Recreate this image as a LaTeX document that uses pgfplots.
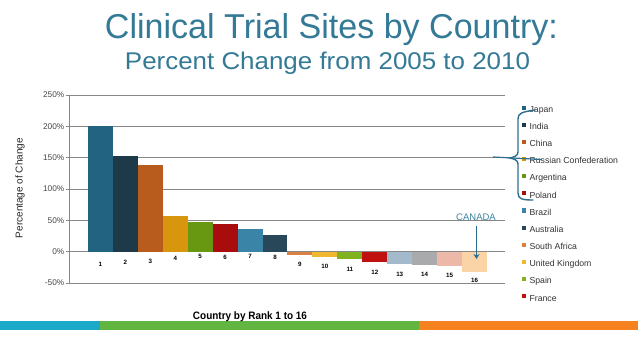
\documentclass[border=0pt]{standalone}
\usepackage{pgfplots}
\pgfplotsset{compat=1.18}
\usetikzlibrary{arrows.meta}
\usepackage{fontspec}
\setmainfont{Liberation Sans}
\usepackage{graphicx}
\definecolor{titlec}{RGB}{52,122,150}
\definecolor{c1}{RGB}{33,99,128}
\definecolor{c2}{RGB}{30,58,72}
\definecolor{c3}{RGB}{184,92,30}
\definecolor{c4}{RGB}{216,150,14}
\definecolor{c5}{RGB}{104,152,18}
\definecolor{c6}{RGB}{168,12,12}
\definecolor{c7}{RGB}{58,132,168}
\definecolor{c8}{RGB}{40,72,90}
\definecolor{c9}{RGB}{218,128,66}
\definecolor{c10}{RGB}{240,184,48}
\definecolor{c11}{RGB}{128,178,32}
\definecolor{c12}{RGB}{192,16,16}
\definecolor{c13}{RGB}{162,186,204}
\definecolor{c14}{RGB}{168,170,172}
\definecolor{c15}{RGB}{236,184,168}
\definecolor{c16}{RGB}{250,212,166}
\definecolor{gridc}{RGB}{135,135,135}
\definecolor{annot}{RGB}{44,110,142}
\definecolor{stripe1}{RGB}{26,169,200}
\definecolor{stripe2}{RGB}{98,181,64}
\definecolor{stripe3}{RGB}{245,130,31}
\begin{document}
\begin{tikzpicture}[x=1pt,y=1pt]
\useasboundingbox (0,0) rectangle (638,359);
\fill[white] (0,0) rectangle (638,359);
% title
\node[anchor=base,inner sep=0pt,text=titlec] at (331.5,320) {\resizebox{453pt}{25pt}{Clinical Trial Sites by Country:}};
\node[anchor=base,inner sep=0pt,text=titlec] at (327.5,289) {\resizebox{405pt}{17.5pt}{Percent Change from 2005 to 2010}};
% stripes
\fill[stripe1] (0,29) rectangle (100,38);
\fill[stripe2] (100,29) rectangle (419,38);
\fill[stripe3] (419,29) rectangle (638,38);
\begin{axis}[
  at={(69pt,76pt)}, anchor=south west,
  width=436pt, height=188pt, scale only axis,
  xmin=-0.26, xmax=17.22, ymin=-50, ymax=250,
  ytick={-50,0,50,100,150,200,250},
  xtick=\empty,
  axis x line=none, axis y line*=left,
  y axis line style={gridc, line width=0.8pt, -},
  ymajorgrids, grid style={gridc, line width=0.8pt},
  major tick length=3pt, tick align=outside,
  ytick style={gridc, line width=0.8pt},
  /pgf/number format/assume math mode=true,
  yticklabel={\pgfmathprintnumber{\tick}\%},
  yticklabel style={font=\fontsize{8.3}{9}\selectfont, text=black!72, inner sep=1.5pt},
  legend style={at={(1.0385,0.945)}, anchor=north west, draw=none, fill=none,
    font=\fontsize{8.7}{9}\selectfont, inner sep=0pt, row sep=8.5pt,
    nodes={inner sep=0pt, text height=6.3pt, text depth=1.8pt, text=black!80}},
  legend cell align=left,
  legend image code/.code={\fill[#1] (0pt,0.5pt) rectangle (4.3pt,4.6pt); \path (7.6pt,2pt);},
  every axis plot/.append style={ybar, bar width=1, bar shift=0pt, draw=none},
]
\addplot[fill=c1] coordinates {(1,200)};
\addplot[fill=c2] coordinates {(2,152)};
\addplot[fill=c3] coordinates {(3,138)};
\addplot[fill=c4] coordinates {(4,57)};
\addplot[fill=c5] coordinates {(5,47)};
\addplot[fill=c6] coordinates {(6,44)};
\addplot[fill=c7] coordinates {(7,36)};
\addplot[fill=c8] coordinates {(8,26)};
\addplot[fill=c9] coordinates {(9,-6)};
\addplot[fill=c10] coordinates {(10,-9)};
\addplot[fill=c11] coordinates {(11,-12)};
\addplot[fill=c12] coordinates {(12,-17)};
\addplot[fill=c13,forget plot] coordinates {(13,-20)};
\addplot[fill=c14,forget plot] coordinates {(14,-21)};
\addplot[fill=c15,forget plot] coordinates {(15,-23)};
\addplot[fill=c16,forget plot] coordinates {(16,-32)};
\legend{Japan,India,China,Russian Confederation,Argentina,Poland,Brazil,Australia,South Africa,United Kingdom,Spain,France}
\begin{scope}[every node/.style={font=\fontsize{6.2}{6.5}\selectfont\bfseries, inner sep=0pt}]
\node at (axis cs:1,-21) {1};
\node at (axis cs:2,-17) {2};
\node at (axis cs:3,-16) {3};
\node at (axis cs:4,-11) {4};
\node at (axis cs:5,-7.5) {5};
\node at (axis cs:6,-9) {6};
\node at (axis cs:7,-8) {7};
\node at (axis cs:8,-9) {8};
\node at (axis cs:9,-21) {9};
\node at (axis cs:10,-24) {10};
\node at (axis cs:11,-28) {11};
\node at (axis cs:12,-33) {12};
\node at (axis cs:13,-36) {13};
\node at (axis cs:14,-36) {14};
\node at (axis cs:15,-38) {15};
\node at (axis cs:16,-46) {16};
\end{scope}
\end{axis}
% axis titles
\node[rotate=90, font=\fontsize{10}{10}\selectfont, text=black!85] at (20,171) {Percentage of Change};
\node[anchor=base, inner sep=0pt] at (250,39) {\resizebox{114pt}{7.8pt}{\bfseries Country by Rank 1 to 16}};
% Canada annotation
\node[font=\fontsize{9.5}{10}\selectfont, text=c7, inner sep=0pt] at (476,142) {CANADA};
\draw[annot, line width=1.5pt, -{Stealth[length=5pt,width=6pt]}] (476.5,133) -- (476.5,100);
% bracket
\draw[annot, line width=1.4pt, line cap=round] (535,249) .. controls (522,247) and (518,246) .. (518,240) -- (518,207) .. controls (518,203) and (514,202) .. (510,201) .. controls (514,200) and (518,199) .. (518,195) -- (518,166) .. controls (518,160) and (522,159) .. (533,159);
\draw[annot, line width=1.2pt] (493,202) -- (542,199.5);
\end{tikzpicture}
\end{document}
